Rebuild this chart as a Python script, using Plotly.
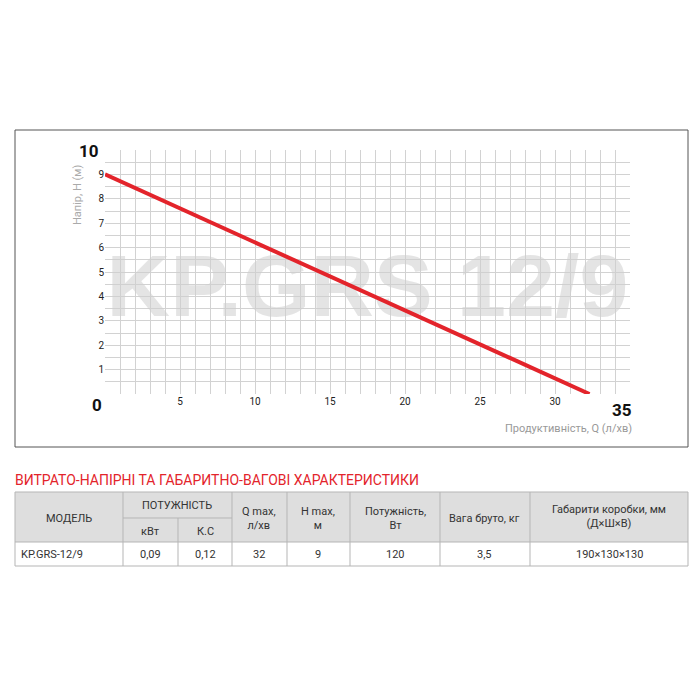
import plotly.graph_objects as go

# pump curve
flow = [0, 32.3]
head = [9, 0]
x_ticks = [5, 10, 15, 20, 25, 30]
y_ticks = [1, 2, 3, 4, 5, 6, 7, 8, 9]

# table
title_text = "ВИТРАТО-НАПІРНІ ТА ГАБАРИТНО-ВАГОВІ ХАРАКТЕРИСТИКИ"
row_values = ["KP.GRS-12/9", "0,09", "0,12", "32", "9", "120", "3,5", "190×130×130"]

W = H = 684  # page body has an 8px margin
def px(x): return (x - 8) / W
def py(y): return 1 - (y - 8) / H

font = "Roboto, Liberation Sans, sans-serif"
fig = go.Figure()
# watermark drawn under the curve
fig.add_trace(go.Scatter(x=[17.5], y=[4.1], mode="text", text=["<b>KP.GRS 12/9</b>"],
                         textfont=dict(family="Liberation Sans, sans-serif", size=88,
                                       color="rgba(205,205,205,0.55)"),
                         showlegend=False, hoverinfo="skip", cliponaxis=False))
fig.add_trace(go.Scatter(x=flow, y=head, mode="lines",
                         line=dict(color="#e3242b", width=4), showlegend=False,
                         cliponaxis=False))

grid = "#d2d2d2"
fig.update_layout(
    width=W, height=H, margin=dict(l=0, r=0, t=0, b=0),
    paper_bgcolor="white", plot_bgcolor="white",
    xaxis=dict(domain=[px(105), px(630)], range=[0, 35], showgrid=True,
               gridcolor=grid, gridwidth=1, tickvals=list(range(36)),
               ticktext=[str(v) if v in x_ticks else "" for v in range(36)],
               ticks="", zeroline=False, showline=False,
               tickfont=dict(family=font, size=10, color="#222")),
    yaxis=dict(domain=[py(394), py(150)], range=[0, 10], showgrid=True,
               gridcolor=grid, gridwidth=1, tickvals=[i / 2 for i in range(21)],
               ticktext=[str(v // 2) if v % 2 == 0 and v // 2 in y_ticks else "" for v in range(21)],
               ticks="", zeroline=False, showline=False,
               tickfont=dict(family=font, size=10, color="#222")),
    font=dict(family=font),
)

ann = []
def note(t, x, y, size, color, anchor="center", **kw):
    ann.append(dict(x=px(x), y=py(y), xref="paper", yref="paper", text=t, showarrow=False,
                    xanchor=anchor, yanchor="middle", font=dict(family=font, size=size, color=color), **kw))

for t, x, y in [("10", 89, 151), ("0", 97, 405), ("35", 622, 410)]:
    note("<b>%s</b>" % t, x, y, 17, "#111")
note("Напір, Н (м)", 77, 195, 11, "#aaa", textangle=-90)
note("Продуктивність, Q (л/хв)", 634, 428, 11, "#999", anchor="right")
note(title_text, 13, 480, 14, "#e3242b", anchor="left")

shapes = [dict(type="rect", xref="paper", yref="paper", x0=px(15), x1=px(688), y0=py(130), y1=py(447),
               line=dict(color="#555", width=1))]
# table geometry
cols = [15, 123, 178, 232, 287, 350, 440, 530, 688]
top, mid, hb, bot = 492, 518, 542, 566
shapes.append(dict(type="rect", xref="paper", yref="paper", x0=px(15), x1=px(688), y0=py(hb), y1=py(top),
                   fillcolor="#dedede", line=dict(width=0), layer="below"))
line = dict(color="#b5b5b5", width=1)
for y in [top, hb, bot]:
    shapes.append(dict(type="line", xref="paper", yref="paper", x0=px(15), x1=px(688), y0=py(y), y1=py(y), line=line))
shapes.append(dict(type="line", xref="paper", yref="paper", x0=px(123), x1=px(232), y0=py(mid), y1=py(mid), line=line))
for c in cols:
    y0 = mid if c == 178 else top
    shapes.append(dict(type="line", xref="paper", yref="paper", x0=px(c), x1=px(c), y0=py(bot), y1=py(y0), line=line))

def cell(t, x, y, anchor="center"):
    note(t, x, y, 11, "#333", anchor=anchor)
cell("МОДЕЛЬ", 69, 518)
cell("ПОТУЖНІСТЬ", 177, 505)
cell("кВт", 150, 531)
cell("К.С", 205, 531)
cell("Q max,<br>л/хв", 259, 518)
cell("H max,<br>м", 318, 518)
cell("Потужність,<br>Вт", 395, 518)
cell("Вага бруто, кг", 485, 518)
cell("Габарити коробки, мм<br>(Д×Ш×В)", 609, 516)
centers = [19, 150, 205, 259, 318, 395, 485, 609]
for i, v in enumerate(row_values):
    cell(v, centers[i], 554, "left" if i == 0 else "center")

fig.update_layout(annotations=ann, shapes=shapes)
fig.write_html("out.html")
